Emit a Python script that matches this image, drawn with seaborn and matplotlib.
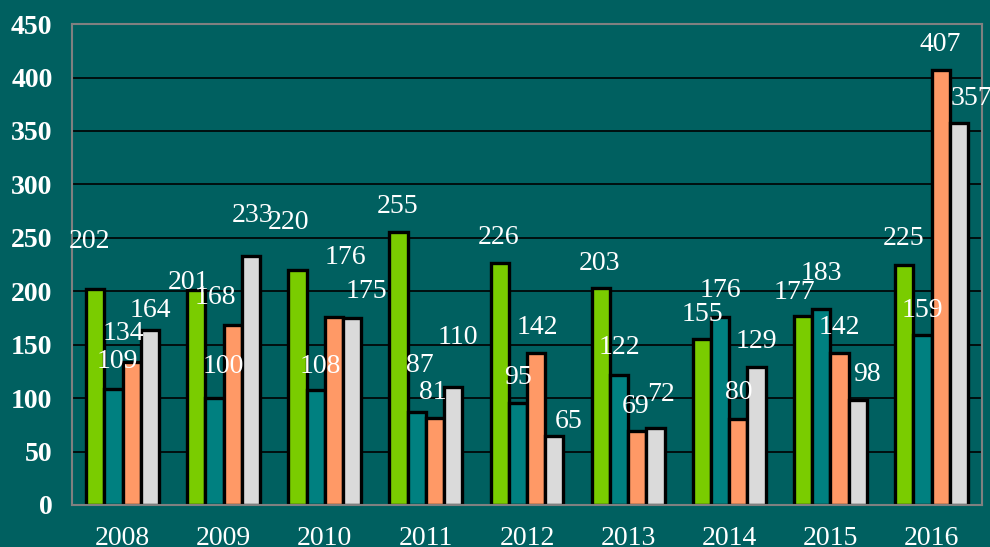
import numpy as np
import pandas as pd
import matplotlib.pyplot as plt
import seaborn as sns

# data
years = ['2008', '2009', '2010', '2011', '2012', '2013', '2014', '2015', '2016']
series_a = [202, 201, 220, 255, 226, 203, 155, 177, 225]
series_b = [109, 100, 108, 87, 95, 122, 176, 183, 159]
series_c = [134, 168, 176, 81, 142, 69, 80, 142, 407]
series_d = [164, 233, 175, 110, 65, 72, 129, 98, 357]
series_names = ['A', 'B', 'C', 'D']
colors = ['#7acc00', '#008080', '#ff9966', '#dadada']

# label placement (pixels: dx, up) like the excel labels in the original
label_offsets = [
    [(-6, 48), (-8, 8), (-9, 47), (-1, 26), (-1, 26), (-1, 25), (0, 25), (-9, 23), (-1, 26)],
    [(4, 27), (9, 32), (5, 23), (3, 47), (0, 26), (0, 27), (0, 26), (0, 36), (0, 25)],
    [(-8, 28), (-17, 28), (12, 59), (-2, 26), (1, 26), (-2, 25), (0, 27), (0, 26), (0, 26)],
    [(1, 19), (2, 40), (14, 26), (5, 50), (14, 14), (6, 34), (0, 26), (9, 26), (13, 25)],
]

bg = '#006060'

df = pd.DataFrame({
    'year': years * 4,
    'value': series_a + series_b + series_c + series_d,
    'series': np.repeat(series_names, len(years)),
})

sns.set_style('white')
plt.rcParams['font.family'] = ['Liberation Serif', 'DejaVu Serif']

fig = plt.figure(figsize=(9.9, 5.47), dpi=100, facecolor=bg)
ax = fig.add_axes([0.0727, 0.0768, 0.9193, 0.8792])
ax.set_facecolor(bg)

sns.barplot(data=df, x='year', y='value', hue='series', palette=colors, saturation=1,
            width=0.72, edgecolor='black', linewidth=2.4, legend=False, ax=ax)

ax.set_ylim(0, 450)
ax.set_xlim(-0.5, len(years) - 0.5)
ax.set_yticks(np.arange(0, 451, 50))
ax.yaxis.grid(True, color='black', linewidth=1.2)
ax.set_axisbelow(True)

ax.set_xticks(np.arange(-0.5, len(years), 1.0), minor=True)
ax.tick_params(axis='x', which='major', length=0, labelsize=20, labelcolor='white', pad=15)
ax.tick_params(axis='x', which='minor', length=7, width=1.2, color='black', direction='out')
ax.tick_params(axis='y', length=7, width=1.2, color='black', direction='out',
               labelsize=20, labelcolor='white', pad=7)
for t in ax.get_yticklabels():
    t.set_fontweight('bold')

for s in ax.spines.values():
    s.set_visible(True)
    s.set_color('#808080')
    s.set_linewidth(1.5)

ax.set_xlabel('')
ax.set_ylabel('')

for k, cont in enumerate(ax.containers):
    for j, bar in enumerate(cont):
        h = bar.get_height()
        dx, dy = label_offsets[k][j]
        ax.annotate(f'{int(h)}', (bar.get_x() + bar.get_width() / 2, h),
                    xytext=(dx, dy), textcoords='offset pixels',
                    ha='center', va='center', color='white', fontsize=20,
                    annotation_clip=False, clip_on=False)

fig.savefig('out.png', dpi=100, facecolor=bg)
